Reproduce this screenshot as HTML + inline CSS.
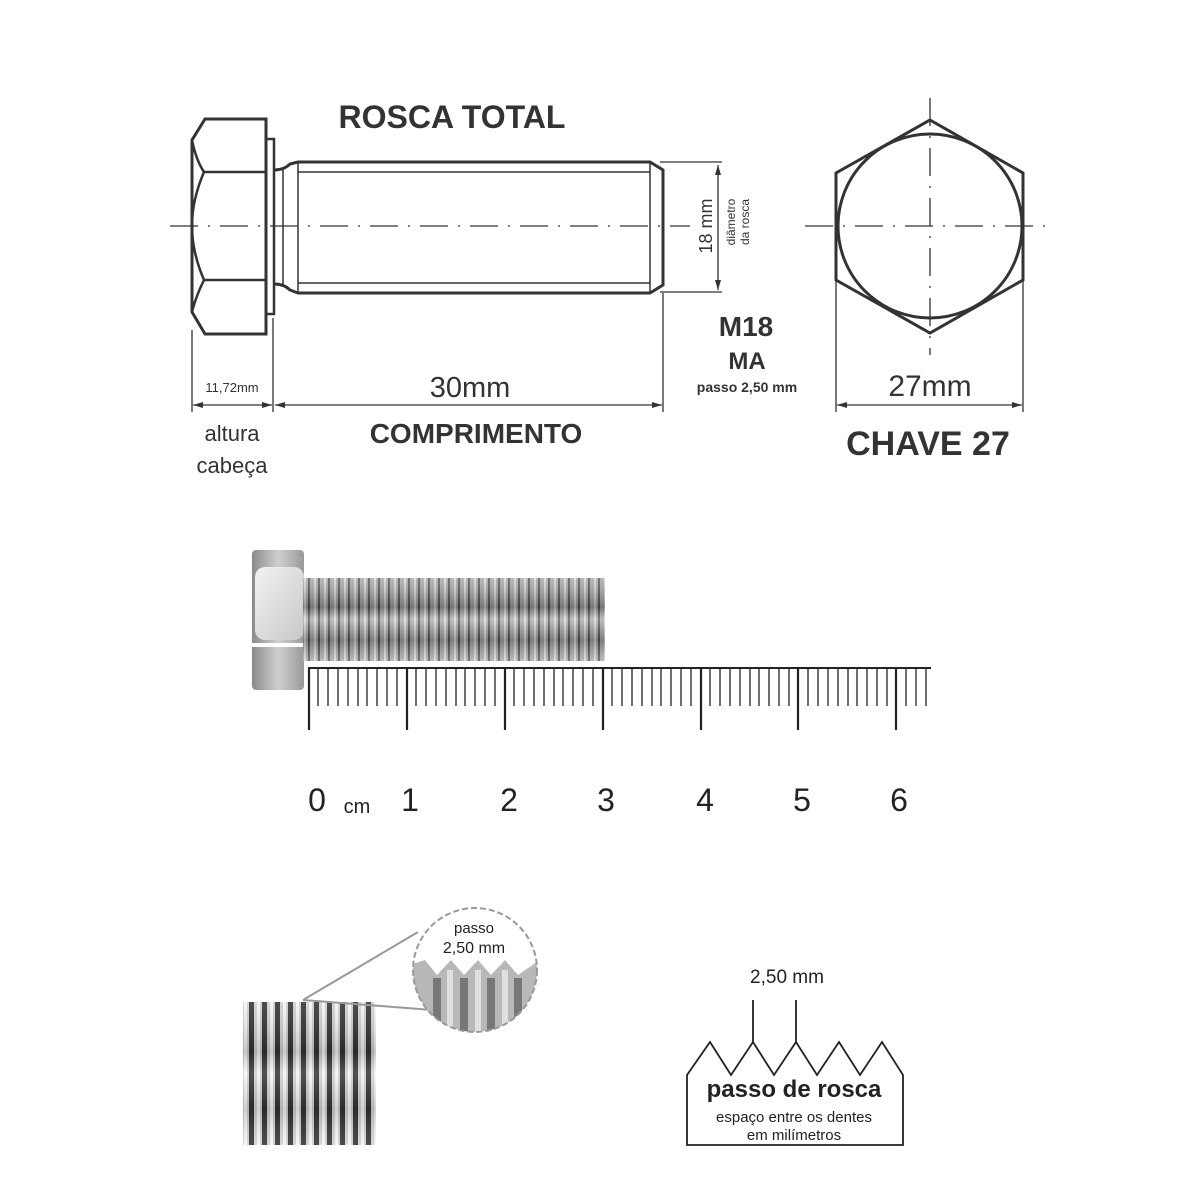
<!DOCTYPE html>
<html><head><meta charset="utf-8"><style>html,body{margin:0;padding:0;background:#fff}svg{display:block}</style></head><body>
<svg width="1200" height="1200" viewBox="0 0 1200 1200" xmlns="http://www.w3.org/2000/svg" font-family="Liberation Sans, sans-serif">
<defs>
<linearGradient id="headg" x1="0" y1="0" x2="1" y2="0"><stop offset="0" stop-color="#8a8a8a"/><stop offset="0.5" stop-color="#cfcfcf"/><stop offset="1" stop-color="#9a9a9a"/></linearGradient>
<linearGradient id="faceg" x1="0" y1="0" x2="1" y2="1"><stop offset="0" stop-color="#f2f2f2"/><stop offset="1" stop-color="#c8c8c8"/></linearGradient>
<pattern id="thr" x="303" y="0" width="10" height="100" patternUnits="userSpaceOnUse"><rect width="10" height="100" fill="#a8a8a8"/><rect x="5" width="2" height="100" fill="#555"/><rect x="1" width="2" height="100" fill="#d8d8d8"/></pattern>
<pattern id="thr2" x="243" y="0" width="13" height="200" patternUnits="userSpaceOnUse"><rect width="13" height="200" fill="#d0d0d0"/><rect x="6" width="5" height="200" fill="#333"/><rect x="1" width="3" height="200" fill="#f5f5f5"/></pattern>
<linearGradient id="vshade" x1="0" y1="0" x2="0" y2="1"><stop offset="0" stop-color="#fff" stop-opacity="0.2"/><stop offset="0.35" stop-color="#000" stop-opacity="0.3"/><stop offset="0.5" stop-color="#fff" stop-opacity="0.25"/><stop offset="0.75" stop-color="#000" stop-opacity="0.25"/><stop offset="1" stop-color="#fff" stop-opacity="0.2"/></linearGradient>
<marker id="ar" viewBox="0 0 10 6" refX="10" refY="3" markerWidth="10" markerHeight="6" orient="auto-start-reverse" markerUnits="userSpaceOnUse"><path d="M0,0 L10,3 L0,6 z" fill="#333"/></marker>
<clipPath id="circ"><circle cx="475" cy="970" r="62"/></clipPath>
</defs>

<g stroke="#333" fill="none">
<path d="M205,119 L266,119 L266,334 L205,334 L192,312 L192,140 Z" stroke-width="3"/>
<path d="M192,140 Q196,160 204,172 L266,172 M204,172 Q192,200 192,226 Q192,252 204,280 L266,280 M204,280 Q196,296 192,312" stroke-width="2.5"/>
<rect x="266" y="139" width="8" height="175" stroke-width="2.5"/>
<path d="M274,170 Q284,170 290,164 L298,162 L650,162 L663,170 L663,285 L650,293 L298,293 L290,290 Q284,284 274,284" stroke-width="3"/>
<path d="M283,168 L283,287 M298,162 L298,293 M650,162 L650,293 M298,172 L650,172 M298,283 L650,283" stroke-width="1.5"/>
<line x1="170" y1="226" x2="690" y2="226" stroke-width="1.3" stroke-dasharray="28,10,2,10"/>
<line x1="805" y1="226" x2="1055" y2="226" stroke-width="1.3" stroke-dasharray="28,10,2,10"/>
<line x1="930" y1="98" x2="930" y2="355" stroke-width="1.3" stroke-dasharray="28,10,2,10"/>
<g stroke-width="1.3">
<line x1="660" y1="162" x2="722" y2="162"/><line x1="660" y1="292" x2="722" y2="292"/>
<line x1="718" y1="165" x2="718" y2="290" marker-start="url(#ar)" marker-end="url(#ar)"/>
<line x1="192" y1="330" x2="192" y2="412"/><line x1="273" y1="318" x2="273" y2="412"/><line x1="663" y1="293" x2="663" y2="412"/>
<line x1="193" y1="405" x2="272" y2="405" marker-start="url(#ar)" marker-end="url(#ar)"/>
<line x1="275" y1="405" x2="662" y2="405" marker-start="url(#ar)" marker-end="url(#ar)"/>
<line x1="836" y1="280" x2="836" y2="412"/><line x1="1023" y1="280" x2="1023" y2="412"/>
<line x1="837" y1="405" x2="1022" y2="405" marker-start="url(#ar)" marker-end="url(#ar)"/>
</g>
<path d="M930,120 L1023,173 L1023,280 L930,333 L836,280 L836,173 Z" stroke-width="3"/>
<circle cx="930" cy="226" r="92" stroke-width="3"/>
</g>

<g fill="#333">
<text x="452" y="128" font-size="32" font-weight="bold" text-anchor="middle">ROSCA TOTAL</text>
<text transform="translate(712,226) rotate(-90)" font-size="18" text-anchor="middle">18 mm</text>
<text transform="translate(735,222) rotate(-90)" font-size="12" text-anchor="middle">diâmetro</text>
<text transform="translate(749,222) rotate(-90)" font-size="12" text-anchor="middle">da rosca</text>
<text x="232" y="392" font-size="13" text-anchor="middle">11,72mm</text>
<text x="470" y="397" font-size="29" text-anchor="middle">30mm</text>
<text x="476" y="443" font-size="28" font-weight="bold" text-anchor="middle">COMPRIMENTO</text>
<text x="232" y="441" font-size="22" text-anchor="middle">altura</text>
<text x="232" y="473" font-size="22" text-anchor="middle">cabeça</text>
<text x="746" y="336" font-size="28" font-weight="bold" text-anchor="middle">M18</text>
<text x="747" y="369" font-size="24" font-weight="bold" text-anchor="middle">MA</text>
<text x="747" y="392" font-size="14" font-weight="bold" text-anchor="middle">passo 2,50 mm</text>
<text x="930" y="396" font-size="30" text-anchor="middle">27mm</text>
<text x="928" y="455" font-size="34" font-weight="bold" text-anchor="middle">CHAVE 27</text>
</g>

<rect x="252" y="550" width="52" height="140" rx="4" fill="url(#headg)"/>
<rect x="252" y="643" width="52" height="4" fill="#fff"/>
<rect x="255" y="567" width="49" height="73" rx="10" fill="url(#faceg)"/>
<rect x="303" y="578" width="302" height="83" fill="url(#thr)"/>
<rect x="303" y="578" width="302" height="83" fill="url(#vshade)"/>
<g stroke="#222" stroke-width="1.3">
<line x1="308" y1="668" x2="931" y2="668" stroke-width="2"/>
<path d="M318,668v38M328,668v38M338,668v38M348,668v38M358,668v38M367,668v38M377,668v38M387,668v38M397,668v38M416,668v38M426,668v38M436,668v38M446,668v38M456,668v38M465,668v38M475,668v38M485,668v38M495,668v38M514,668v38M524,668v38M534,668v38M544,668v38M554,668v38M563,668v38M573,668v38M583,668v38M593,668v38M612,668v38M622,668v38M632,668v38M642,668v38M652,668v38M661,668v38M671,668v38M681,668v38M691,668v38M710,668v38M720,668v38M730,668v38M740,668v38M750,668v38M759,668v38M769,668v38M779,668v38M789,668v38M808,668v38M818,668v38M828,668v38M838,668v38M848,668v38M857,668v38M867,668v38M877,668v38M887,668v38M906,668v38M916,668v38M926,668v38"/>
<path d="M309,668v62M407,668v62M505,668v62M603,668v62M701,668v62M798,668v62M896,668v62" stroke-width="2.2"/>
</g>
<g fill="#222" font-size="32">
<text x="317" y="811" text-anchor="middle">0</text>
<text x="357" y="813" font-size="20" text-anchor="middle">cm</text>
<text x="410" y="811" text-anchor="middle">1</text>
<text x="509" y="811" text-anchor="middle">2</text>
<text x="606" y="811" text-anchor="middle">3</text>
<text x="705" y="811" text-anchor="middle">4</text>
<text x="802" y="811" text-anchor="middle">5</text>
<text x="899" y="811" text-anchor="middle">6</text>
</g>

<rect x="243" y="1002" width="133" height="143" fill="url(#thr2)"/>
<rect x="243" y="1002" width="133" height="143" fill="url(#vshade)" opacity="0.6"/>
<g stroke="#999" stroke-width="2" fill="none">
<line x1="303" y1="1000" x2="418" y2="932"/><line x1="303" y1="1000" x2="432" y2="1010"/>
</g>
<g clip-path="url(#circ)">
<rect x="410" y="905" width="130" height="130" fill="#fff"/>
<path d="M410,965 L425,960 L437,975 L451,960 L464,975 L478,960 L491,975 L505,960 L518,975 L540,960 L540,1035 L410,1035 Z" fill="#b8b8b8"/>
<path d="M437,978 L437,1035 M464,978 L464,1035 M491,978 L491,1035 M518,978 L518,1035" stroke="#777" stroke-width="8" fill="none"/>
<path d="M450,970 L450,1035 M478,970 L478,1035 M505,970 L505,1035" stroke="#e0e0e0" stroke-width="6" fill="none"/>
</g>
<circle cx="475" cy="970" r="62" fill="none" stroke="#999" stroke-width="2" stroke-dasharray="6,3"/>
<text x="474" y="933" font-size="15" fill="#222" text-anchor="middle">passo</text>
<text x="474" y="953" font-size="16" fill="#222" text-anchor="middle">2,50 mm</text>

<g stroke="#222" stroke-width="1.8" fill="none">
<path d="M687,1145 L687,1075 L710,1042 L731,1075 L753,1042 L774,1075 L796,1042 L817,1075 L839,1042 L860,1075 L882,1042 L903,1075 L903,1145 Z"/>
<line x1="753" y1="1000" x2="753" y2="1042"/><line x1="796" y1="1000" x2="796" y2="1042"/>
</g>
<g fill="#222" text-anchor="middle">
<text x="787" y="983" font-size="19">2,50 mm</text>
<text x="794" y="1097" font-size="24" font-weight="bold">passo de rosca</text>
<text x="794" y="1122" font-size="15">espaço entre os dentes</text>
<text x="794" y="1140" font-size="15">em milímetros</text>
</g>
</svg>
</body></html>
